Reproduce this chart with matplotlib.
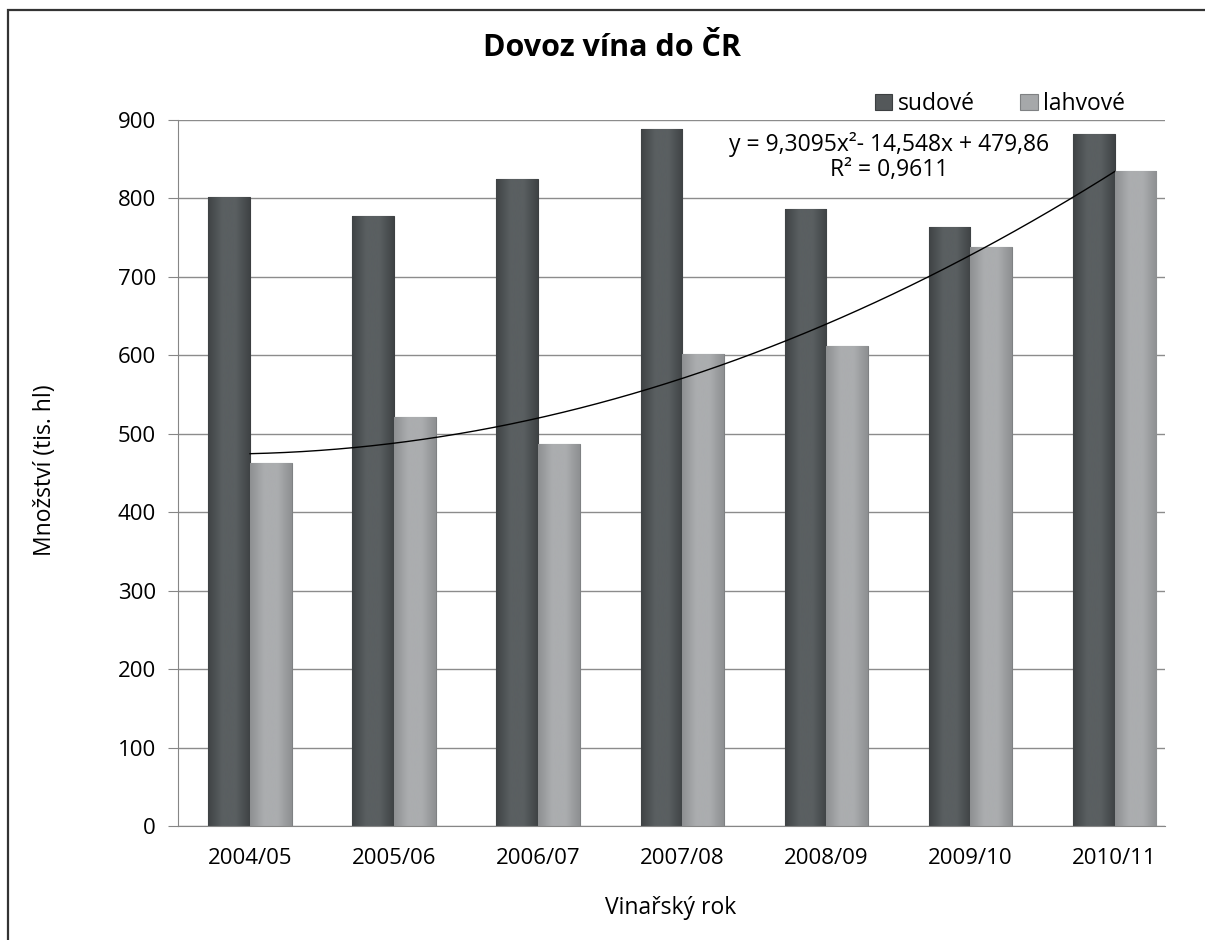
import numpy as np
import matplotlib
matplotlib.use('Agg')
from matplotlib import pyplot as plt
from matplotlib.colors import LinearSegmentedColormap
from matplotlib.patches import Rectangle

plt.rcParams['font.family'] = ['Open Sans', 'DejaVu Sans']

years = ['2004/05', '2005/06', '2006/07', '2007/08', '2008/09', '2009/10', '2010/11']
sudove = [802, 777, 825, 889, 786, 764, 882]
lahvove = [463, 522, 487, 602, 612, 738, 835]
# trend line of lahvove as printed on the chart (x = 1..7)
trend_coef = [9.3095, -14.548, 479.86]
trend_label = 'y = 9,3095x²- 14,548x + 479,86\nR² = 0,9611'

W, H = 1205, 940


def shade_bars(ax, bars, dark, light):
    '''Fill bars with a left-right gradient like the Excel bevel.'''
    cm = LinearSegmentedColormap.from_list('g', [dark, light, light, dark])
    grad = np.linspace(0, 1, 64).reshape(1, -1)
    for b in bars:
        x0, y0 = b.get_x(), b.get_y()
        ext = [x0, x0 + b.get_width(), y0, y0 + b.get_height()]
        im = ax.imshow(grad, cmap=cm, extent=ext, aspect='auto', zorder=2.5,
                       interpolation='bicubic')
        im.set_clip_path(b)


def main():
    fig = plt.figure(figsize=(W / 100, H / 100), dpi=100)
    ax = fig.add_axes([178 / W, 1 - 826 / H, (1165 - 178) / W, (826 - 120) / H])

    x = np.arange(len(years))
    bw = 0.29
    b1 = ax.bar(x - bw / 2, sudove, bw, color='#54585a', edgecolor='#3c3f41',
                linewidth=0.8, label='sudové', zorder=2)
    b2 = ax.bar(x + bw / 2, lahvove, bw, color='#a6a8aa', edgecolor='#7f8183',
                linewidth=0.8, label='lahvové', zorder=2)
    shade_bars(ax, b1, '#3f4345', '#5a5f61')
    shade_bars(ax, b2, '#8e9092', '#abadaf')

    xt = np.linspace(0, 6, 200)
    yt = np.polyval(trend_coef, xt + 1)
    ax.plot(xt, yt, color='black', lw=1, zorder=4)

    ax.set_xlim(-0.5, 6.35)
    ax.set_ylim(0, 900)
    ax.set_yticks(range(0, 901, 100))
    ax.set_xticks(x)
    ax.set_xticklabels(years)
    ax.tick_params(axis='y', length=7, color='#868686', pad=9, labelsize=16)
    ax.tick_params(axis='x', length=0, pad=16, labelsize=16)
    ax.yaxis.grid(True, color='#8c8c8c', lw=1)
    ax.set_axisbelow(True)
    for s in ['top', 'right']:
        ax.spines[s].set_visible(False)
    for s in ['left', 'bottom']:
        ax.spines[s].set_color('#868686')

    fig.text(612 / W, 1 - 48 / H, 'Dovoz vína do ČR', ha='center', va='center',
             fontsize=22, fontweight='bold')
    fig.text(45 / W, 1 - 470 / H, 'Množství (tis. hl)', ha='center', va='center',
             rotation=90, fontsize=16.5)
    fig.text(671 / W, 1 - 908 / H, 'Vinařský rok', ha='center', va='center', fontsize=16.5)
    fig.text(889 / W, 1 - 157 / H, trend_label, ha='center', va='center',
             fontsize=16.5, linespacing=1.1)

    fig.legend(handles=[b1, b2], loc='center', bbox_to_anchor=(1000 / W, 1 - 104 / H),
               ncol=2, frameon=False, fontsize=16.5, handlelength=0.75, handleheight=0.75,
               handletextpad=0.25, columnspacing=2.0)

    # outer chart frame (bottom and right are cut off in the reference)
    fig.patches.append(Rectangle((8 / W, -0.1), 1.2, 1.1 - 10 / H, transform=fig.transFigure,
                                 fill=False, edgecolor='#333333', lw=1.6))

    fig.savefig('out.png', dpi=100)


if __name__ == '__main__':
    main()
